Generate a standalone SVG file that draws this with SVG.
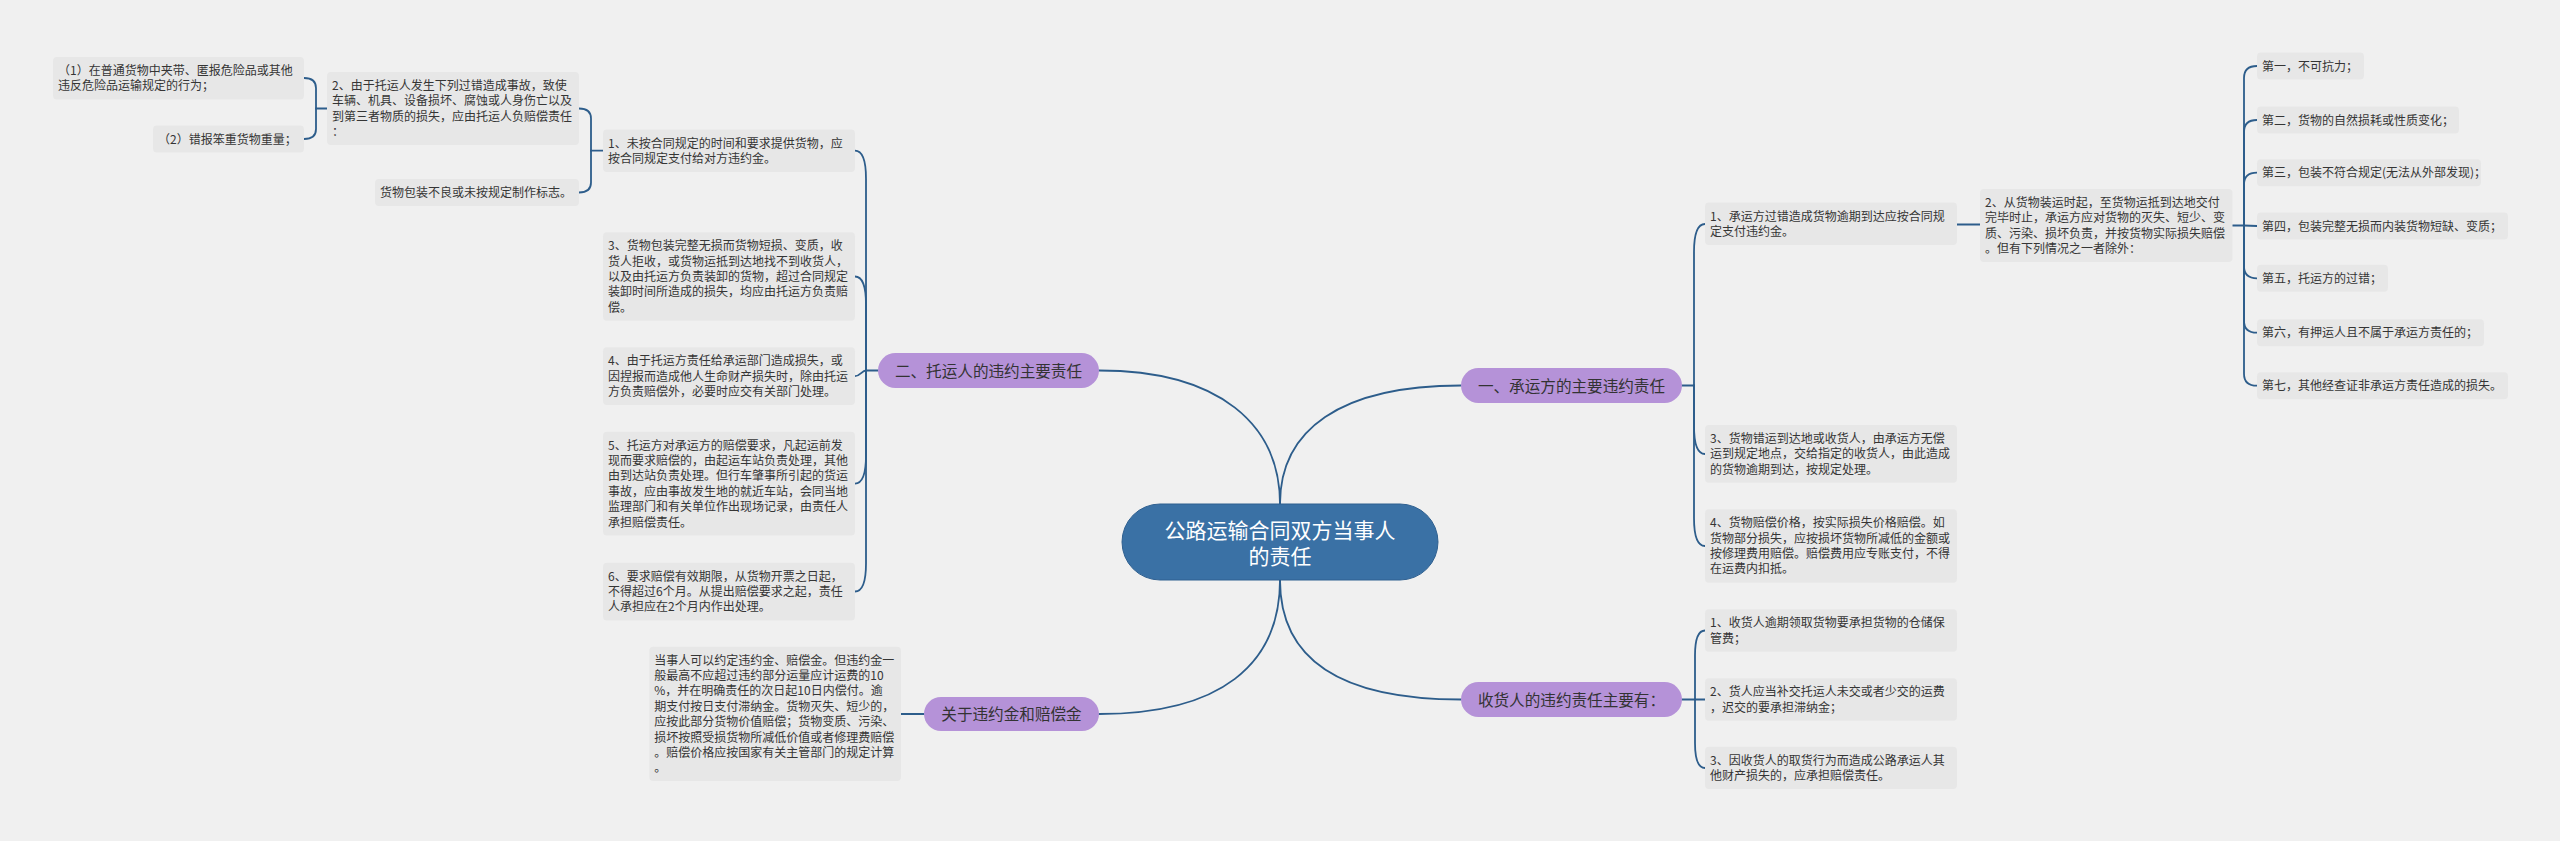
<svg xmlns="http://www.w3.org/2000/svg" width="2560" height="841" viewBox="0 0 2560 841">
<style>
.bg{fill:#f0f0f0}
.box{fill:#e7e7e7}
.t{font-family:"Noto Sans CJK SC","Noto Sans",sans-serif;font-size:12px;fill:#353535}
.pill{fill:#b592d8}
.pt{font-family:"Noto Sans CJK SC","Noto Sans",sans-serif;font-size:15.6px;fill:#333;text-anchor:middle}
.ct{font-family:"Noto Sans CJK SC","Noto Sans",sans-serif;font-size:21px;fill:#fff;text-anchor:middle}
.c path{fill:none;stroke:#2d5d8b;stroke-width:1.8;stroke-linecap:round}
</style>
<rect class="bg" x="0" y="0" width="2560" height="841"/>
<g class="c" id="connectors">
<path d="M1280,504 C1280,430 1340,385.5 1461,385.5"/>
<path d="M1280,504 C1280,425 1220,370.5 1099,370.5"/>
<path d="M1280,580 C1280,665 1220,714 1099,714"/>
<path d="M1280,580 C1280,660 1340,699.5 1461,699.5"/>
<path d="M878,370.5 H866"/>
<path d="M866,370.5 V178.7 Q866,150.7 855,150.7"/>
<path d="M866,370.5 V304.5 Q866,276.5 855,276.5"/>
<path d="M866,370.5 C862,370.5 860,376.2 855,376.2"/>
<path d="M866,370.5 V455.6 Q866,483.6 855,483.6"/>
<path d="M866,370.5 V563.5 Q866,591.5 855,591.5"/>
<path d="M603,150.7 H591"/>
<path d="M591,150.7 V118.5 Q591,108.5 579,108.5"/>
<path d="M591,150.7 V182.5 Q591,192.5 579,192.5"/>
<path d="M327,108.5 H316"/>
<path d="M316,108.5 V88 Q316,78 304,78"/>
<path d="M316,108.5 V129 Q316,139 304,139"/>
<path d="M901,714 H924"/>
<path d="M1682,385.5 H1694"/>
<path d="M1694,385.5 V252 Q1694,224 1705,224"/>
<path d="M1694,385.5 V426 Q1694,454 1705,454"/>
<path d="M1694,385.5 V518 Q1694,546 1705,546"/>
<path d="M1957,224.5 H1980"/>
<path d="M2232.5,225.5 H2244 L2257,226"/>
<path d="M2244,225.5 V78 Q2244,66 2257,66"/>
<path d="M2244,225.5 V132 Q2244,120 2257,120"/>
<path d="M2244,225.5 V184.7 Q2244,172.7 2257,172.7"/>
<path d="M2244,225.5 V266.3 Q2244,278.3 2257,278.3"/>
<path d="M2244,225.5 V320.7 Q2244,332.7 2257,332.7"/>
<path d="M2244,225.5 V373.7 Q2244,385.7 2257,385.7"/>
<path d="M1682,699.5 H1705"/>
<path d="M1695,699.5 V655.5 Q1695,630.5 1705,630.5"/>
<path d="M1695,699.5 V743 Q1695,768 1705,768"/>
</g>
<g id="center">
<rect x="1122" y="504" width="316" height="76" rx="38" fill="#3a71a5" stroke="#2f6090" stroke-width="1"/>
<text class="ct" x="1280" y="538">公路运输合同双方当事人</text>
<text class="ct" x="1280" y="564">的责任</text>
</g>
<g id="b2">
<rect class="pill" x="878" y="353" width="221" height="35" rx="17.5"/>
<text class="pt" x="988.5" y="376.5">二、托运人的违约主要责任</text>
</g>
<g id="b1">
<rect class="pill" x="1461" y="368" width="221" height="35" rx="17.5"/>
<text class="pt" x="1571.5" y="391.5">一、承运方的主要违约责任</text>
</g>
<g id="b3">
<rect class="pill" x="924" y="697" width="175" height="34" rx="17"/>
<text class="pt" x="1011.5" y="720">关于违约金和赔偿金</text>
</g>
<g id="b4">
<rect class="pill" x="1461" y="682" width="221" height="35" rx="17.5"/>
<text class="pt" x="1571.5" y="705.5">收货人的违约责任主要有：</text>
</g>
<g id="nA">
<rect class="box" x="53" y="57" width="251" height="42.4" rx="4"/>
<text class="t" x="58" y="75">（1）在普通货物中夹带、匿报危险品或其他</text>
<text class="t" x="58" y="90.4">违反危险品运输规定的行为；</text>
</g>
<g id="nB">
<rect class="box" x="153" y="125.5" width="151" height="27" rx="4"/>
<text class="t" x="158" y="143.5">（2）错报笨重货物重量；</text>
</g>
<g id="nC">
<rect class="box" x="327" y="72" width="252" height="73" rx="4"/>
<text class="t" x="332" y="90">2、由于托运人发生下列过错造成事故，致使</text>
<text class="t" x="332" y="105.4">车辆、机具、设备损坏、腐蚀或人身伤亡以及</text>
<text class="t" x="332" y="120.7">到第三者物质的损失，应由托运人负赔偿责任</text>
<text class="t" x="332" y="136">：</text>
</g>
<g id="nD">
<rect class="box" x="375" y="179" width="204" height="27" rx="4"/>
<text class="t" x="380" y="197">货物包装不良或未按规定制作标志。</text>
</g>
<g id="nE">
<rect class="box" x="603" y="129.5" width="252" height="42.4" rx="4"/>
<text class="t" x="608" y="147.5">1、未按合同规定的时间和要求提供货物，应</text>
<text class="t" x="608" y="162.9">按合同规定支付给对方违约金。</text>
</g>
<g id="nF">
<rect class="box" x="603" y="232.3" width="252" height="88.4" rx="4"/>
<text class="t" x="608" y="250.3">3、货物包装完整无损而货物短损、变质，收</text>
<text class="t" x="608" y="265.7">货人拒收，或货物运抵到达地找不到收货人，</text>
<text class="t" x="608" y="281">以及由托运方负责装卸的货物，超过合同规定</text>
<text class="t" x="608" y="296.4">装卸时间所造成的损失，均应由托运方负责赔</text>
<text class="t" x="608" y="311.7">偿。</text>
</g>
<g id="nG">
<rect class="box" x="603" y="347.3" width="252" height="57.7" rx="4"/>
<text class="t" x="608" y="365.3">4、由于托运方责任给承运部门造成损失，或</text>
<text class="t" x="608" y="380.7">因捏报而造成他人生命财产损失时，除由托运</text>
<text class="t" x="608" y="396">方负责赔偿外，必要时应交有关部门处理。</text>
</g>
<g id="nH">
<rect class="box" x="603" y="431.7" width="252" height="103.8" rx="4"/>
<text class="t" x="608" y="449.7">5、托运方对承运方的赔偿要求，凡起运前发</text>
<text class="t" x="608" y="465.1">现而要求赔偿的，由起运车站负责处理，其他</text>
<text class="t" x="608" y="480.4">由到达站负责处理。但行车肇事所引起的货运</text>
<text class="t" x="608" y="495.8">事故，应由事故发生地的就近车站，会同当地</text>
<text class="t" x="608" y="511.1">监理部门和有关单位作出现场记录，由责任人</text>
<text class="t" x="608" y="526.5">承担赔偿责任。</text>
</g>
<g id="nI">
<rect class="box" x="603" y="562.7" width="252" height="57.7" rx="4"/>
<text class="t" x="608" y="580.7">6、要求赔偿有效期限，从货物开票之日起，</text>
<text class="t" x="608" y="596.1">不得超过6个月。从提出赔偿要求之起，责任</text>
<text class="t" x="608" y="611.4">人承担应在2个月内作出处理。</text>
</g>
<g id="nJ">
<rect class="box" x="649.3" y="646.7" width="251.7" height="134.3" rx="4"/>
<text class="t" x="654.3" y="664.7">当事人可以约定违约金、赔偿金。但违约金一</text>
<text class="t" x="654.3" y="680.1">般最高不应超过违约部分运量应计运费的10</text>
<text class="t" x="654.3" y="695.4">%，并在明确责任的次日起10日内偿付。逾</text>
<text class="t" x="654.3" y="710.8">期支付按日支付滞纳金。货物灭失、短少的，</text>
<text class="t" x="654.3" y="726.1">应按此部分货物价值赔偿；货物变质、污染、</text>
<text class="t" x="654.3" y="741.5">损坏按照受损货物所减低价值或者修理费赔偿</text>
<text class="t" x="654.3" y="756.8">。赔偿价格应按国家有关主管部门的规定计算</text>
<text class="t" x="654.3" y="772.2">。</text>
</g>
<g id="nK">
<rect class="box" x="1705" y="202.5" width="252" height="42.4" rx="4"/>
<text class="t" x="1710" y="220.5">1、承运方过错造成货物逾期到达应按合同规</text>
<text class="t" x="1710" y="235.9">定支付违约金。</text>
</g>
<g id="nL">
<rect class="box" x="1980" y="189" width="252.5" height="73" rx="4"/>
<text class="t" x="1985" y="207">2、从货物装运时起，至货物运抵到达地交付</text>
<text class="t" x="1985" y="222.4">完毕时止，承运方应对货物的灭失、短少、变</text>
<text class="t" x="1985" y="237.7">质、污染、损坏负责，并按货物实际损失赔偿</text>
<text class="t" x="1985" y="253.1">。但有下列情况之一者除外：</text>
</g>
<g id="m1">
<rect class="box" x="2257" y="52.5" width="107" height="27" rx="4"/>
<text class="t" x="2262" y="70.5">第一，不可抗力；</text>
</g>
<g id="m2">
<rect class="box" x="2257" y="106.5" width="202" height="27" rx="4"/>
<text class="t" x="2262" y="124.5">第二，货物的自然损耗或性质变化；</text>
</g>
<g id="m3">
<rect class="box" x="2257" y="159.2" width="224" height="27" rx="4"/>
<text class="t" x="2262" y="177.2">第三，包装不符合规定(无法从外部发现)；</text>
</g>
<g id="m4">
<rect class="box" x="2257" y="212.5" width="251" height="27" rx="4"/>
<text class="t" x="2262" y="230.5">第四，包装完整无损而内装货物短缺、变质；</text>
</g>
<g id="m5">
<rect class="box" x="2257" y="264.8" width="131" height="27" rx="4"/>
<text class="t" x="2262" y="282.8">第五，托运方的过错；</text>
</g>
<g id="m6">
<rect class="box" x="2257" y="319.2" width="227" height="27" rx="4"/>
<text class="t" x="2262" y="337.2">第六，有押运人且不属于承运方责任的；</text>
</g>
<g id="m7">
<rect class="box" x="2257" y="372.2" width="251" height="27" rx="4"/>
<text class="t" x="2262" y="390.2">第七，其他经查证非承运方责任造成的损失。</text>
</g>
<g id="nN">
<rect class="box" x="1705" y="425" width="252" height="57.7" rx="4"/>
<text class="t" x="1710" y="443">3、货物错运到达地或收货人，由承运方无偿</text>
<text class="t" x="1710" y="458.4">运到规定地点，交给指定的收货人，由此造成</text>
<text class="t" x="1710" y="473.7">的货物逾期到达，按规定处理。</text>
</g>
<g id="nO">
<rect class="box" x="1705" y="509.3" width="252" height="73.4" rx="4"/>
<text class="t" x="1710" y="527.3">4、货物赔偿价格，按实际损失价格赔偿。如</text>
<text class="t" x="1710" y="542.7">货物部分损失，应按损坏货物所减低的金额或</text>
<text class="t" x="1710" y="558">按修理费用赔偿。赔偿费用应专账支付，不得</text>
<text class="t" x="1710" y="573.4">在运费内扣抵。</text>
</g>
<g id="nP">
<rect class="box" x="1705" y="609.3" width="252" height="42.4" rx="4"/>
<text class="t" x="1710" y="627.3">1、收货人逾期领取货物要承担货物的仓储保</text>
<text class="t" x="1710" y="642.7">管费；</text>
</g>
<g id="nQ">
<rect class="box" x="1705" y="678.3" width="252" height="42.4" rx="4"/>
<text class="t" x="1710" y="696.3">2、货人应当补交托运人未交或者少交的运费</text>
<text class="t" x="1710" y="711.7">，迟交的要承担滞纳金；</text>
</g>
<g id="nR">
<rect class="box" x="1705" y="746.7" width="252" height="42.4" rx="4"/>
<text class="t" x="1710" y="764.7">3、因收货人的取货行为而造成公路承运人其</text>
<text class="t" x="1710" y="780.1">他财产损失的，应承担赔偿责任。</text>
</g>
</svg>
